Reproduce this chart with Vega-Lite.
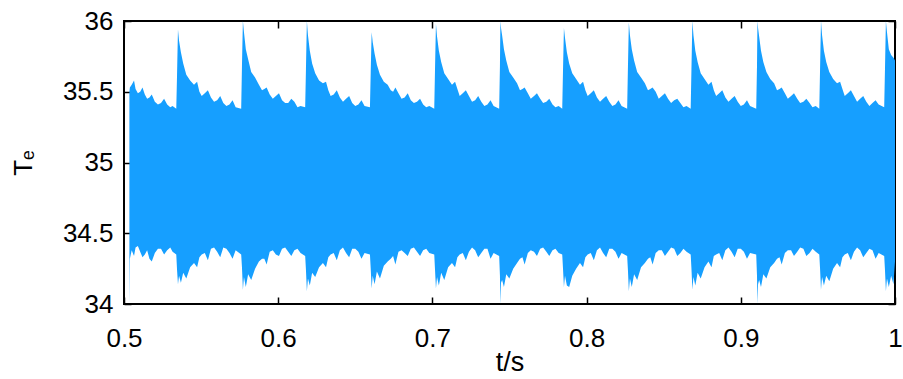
{
  "$schema": "https://vega.github.io/schema/vega-lite/v6.json",
  "width": 771,
  "height": 283,
  "autosize": {"type": "none"},
  "padding": {"left": 124, "top": 21, "right": 8, "bottom": 75},
  "background": "white",
  "config": {
    "view": {"stroke": "black", "strokeWidth": 2},
    "axis": {
      "grid": false,
      "domain": false,
      "tickColor": "black",
      "tickWidth": 1.5,
      "tickSize": -7,
      "labelFont": "Liberation Sans",
      "labelFontSize": 26,
      "labelColor": "black",
      "labelFlush": false,
      "titleFont": "Liberation Sans",
      "titleFontWeight": "normal",
      "titleColor": "black"
    }
  },
  "data": {
    "values": [
      {"t": 0.5035, "hi": 35.5, "lo": 34.0},
      {"t": 0.5038, "hi": 35.53, "lo": 34.32},
      {"t": 0.505, "hi": 35.55, "lo": 34.38},
      {"t": 0.5065, "hi": 35.58, "lo": 34.34},
      {"t": 0.5075, "hi": 35.52, "lo": 34.4},
      {"t": 0.509, "hi": 35.49, "lo": 34.41},
      {"t": 0.5105, "hi": 35.5, "lo": 34.37},
      {"t": 0.512, "hi": 35.53, "lo": 34.33},
      {"t": 0.5135, "hi": 35.48, "lo": 34.35},
      {"t": 0.515, "hi": 35.45, "lo": 34.38},
      {"t": 0.5165, "hi": 35.46, "lo": 34.32},
      {"t": 0.518, "hi": 35.48, "lo": 34.3},
      {"t": 0.52, "hi": 35.43, "lo": 34.36},
      {"t": 0.522, "hi": 35.41, "lo": 34.39},
      {"t": 0.524, "hi": 35.42, "lo": 34.39},
      {"t": 0.526, "hi": 35.45, "lo": 34.35},
      {"t": 0.528, "hi": 35.41, "lo": 34.38},
      {"t": 0.53, "hi": 35.39, "lo": 34.4},
      {"t": 0.5315, "hi": 35.4, "lo": 34.37},
      {"t": 0.5339, "hi": 35.38, "lo": 34.35},
      {"t": 0.5344, "hi": 35.62, "lo": 34.24},
      {"t": 0.535, "hi": 35.94, "lo": 34.14},
      {"t": 0.5357, "hi": 35.86, "lo": 34.2},
      {"t": 0.5369, "hi": 35.78, "lo": 34.15},
      {"t": 0.5384, "hi": 35.7, "lo": 34.22},
      {"t": 0.5404, "hi": 35.62, "lo": 34.18},
      {"t": 0.5429, "hi": 35.58, "lo": 34.26},
      {"t": 0.5454, "hi": 35.55, "lo": 34.29},
      {"t": 0.5474, "hi": 35.57, "lo": 34.26},
      {"t": 0.5489, "hi": 35.5, "lo": 34.33},
      {"t": 0.5504, "hi": 35.47, "lo": 34.35},
      {"t": 0.5524, "hi": 35.49, "lo": 34.36},
      {"t": 0.5544, "hi": 35.51, "lo": 34.31},
      {"t": 0.5564, "hi": 35.46, "lo": 34.39},
      {"t": 0.5584, "hi": 35.43, "lo": 34.4},
      {"t": 0.5604, "hi": 35.44, "lo": 34.37},
      {"t": 0.5624, "hi": 35.47, "lo": 34.33},
      {"t": 0.5644, "hi": 35.42, "lo": 34.4},
      {"t": 0.5664, "hi": 35.4, "lo": 34.39},
      {"t": 0.5684, "hi": 35.41, "lo": 34.36},
      {"t": 0.5704, "hi": 35.44, "lo": 34.32},
      {"t": 0.5724, "hi": 35.39, "lo": 34.38},
      {"t": 0.576, "hi": 35.38, "lo": 34.35},
      {"t": 0.5765, "hi": 35.68, "lo": 34.26},
      {"t": 0.5771, "hi": 36.0, "lo": 34.1},
      {"t": 0.5778, "hi": 35.92, "lo": 34.19},
      {"t": 0.579, "hi": 35.8, "lo": 34.12},
      {"t": 0.5805, "hi": 35.73, "lo": 34.21},
      {"t": 0.5825, "hi": 35.64, "lo": 34.17},
      {"t": 0.585, "hi": 35.6, "lo": 34.25},
      {"t": 0.5875, "hi": 35.55, "lo": 34.3},
      {"t": 0.5895, "hi": 35.51, "lo": 34.32},
      {"t": 0.591, "hi": 35.52, "lo": 34.32},
      {"t": 0.5925, "hi": 35.53, "lo": 34.28},
      {"t": 0.5945, "hi": 35.48, "lo": 34.37},
      {"t": 0.5965, "hi": 35.45, "lo": 34.38},
      {"t": 0.5985, "hi": 35.47, "lo": 34.35},
      {"t": 0.6005, "hi": 35.49, "lo": 34.34},
      {"t": 0.6025, "hi": 35.44, "lo": 34.39},
      {"t": 0.6045, "hi": 35.42, "lo": 34.4},
      {"t": 0.6065, "hi": 35.42, "lo": 34.37},
      {"t": 0.6085, "hi": 35.45, "lo": 34.34},
      {"t": 0.6105, "hi": 35.43, "lo": 34.38},
      {"t": 0.6125, "hi": 35.39, "lo": 34.39},
      {"t": 0.6145, "hi": 35.4, "lo": 34.36},
      {"t": 0.6175, "hi": 35.39, "lo": 34.34},
      {"t": 0.618, "hi": 35.66, "lo": 34.24},
      {"t": 0.6186, "hi": 36.0, "lo": 34.09},
      {"t": 0.6193, "hi": 35.9, "lo": 34.18},
      {"t": 0.6205, "hi": 35.79, "lo": 34.13},
      {"t": 0.622, "hi": 35.7, "lo": 34.22},
      {"t": 0.624, "hi": 35.63, "lo": 34.19},
      {"t": 0.6265, "hi": 35.58, "lo": 34.26},
      {"t": 0.629, "hi": 35.56, "lo": 34.29},
      {"t": 0.631, "hi": 35.57, "lo": 34.26},
      {"t": 0.6325, "hi": 35.51, "lo": 34.33},
      {"t": 0.634, "hi": 35.47, "lo": 34.35},
      {"t": 0.636, "hi": 35.48, "lo": 34.36},
      {"t": 0.638, "hi": 35.51, "lo": 34.31},
      {"t": 0.64, "hi": 35.46, "lo": 34.38},
      {"t": 0.642, "hi": 35.43, "lo": 34.4},
      {"t": 0.644, "hi": 35.45, "lo": 34.36},
      {"t": 0.646, "hi": 35.47, "lo": 34.33},
      {"t": 0.648, "hi": 35.42, "lo": 34.39},
      {"t": 0.65, "hi": 35.4, "lo": 34.39},
      {"t": 0.652, "hi": 35.41, "lo": 34.37},
      {"t": 0.654, "hi": 35.44, "lo": 34.32},
      {"t": 0.656, "hi": 35.4, "lo": 34.36},
      {"t": 0.6595, "hi": 35.39, "lo": 34.35},
      {"t": 0.66, "hi": 35.64, "lo": 34.25},
      {"t": 0.6606, "hi": 35.92, "lo": 34.11},
      {"t": 0.6613, "hi": 35.85, "lo": 34.2},
      {"t": 0.6625, "hi": 35.77, "lo": 34.14},
      {"t": 0.664, "hi": 35.69, "lo": 34.23},
      {"t": 0.666, "hi": 35.62, "lo": 34.18},
      {"t": 0.6685, "hi": 35.57, "lo": 34.27},
      {"t": 0.671, "hi": 35.55, "lo": 34.3},
      {"t": 0.673, "hi": 35.51, "lo": 34.32},
      {"t": 0.6745, "hi": 35.5, "lo": 34.34},
      {"t": 0.676, "hi": 35.53, "lo": 34.28},
      {"t": 0.678, "hi": 35.49, "lo": 34.37},
      {"t": 0.68, "hi": 35.45, "lo": 34.38},
      {"t": 0.682, "hi": 35.46, "lo": 34.36},
      {"t": 0.684, "hi": 35.49, "lo": 34.34},
      {"t": 0.686, "hi": 35.44, "lo": 34.39},
      {"t": 0.688, "hi": 35.42, "lo": 34.4},
      {"t": 0.69, "hi": 35.43, "lo": 34.37},
      {"t": 0.692, "hi": 35.45, "lo": 34.34},
      {"t": 0.694, "hi": 35.41, "lo": 34.38},
      {"t": 0.696, "hi": 35.39, "lo": 34.39},
      {"t": 0.698, "hi": 35.4, "lo": 34.36},
      {"t": 0.7012, "hi": 35.38, "lo": 34.35},
      {"t": 0.7017, "hi": 35.66, "lo": 34.24},
      {"t": 0.7023, "hi": 35.98, "lo": 34.11},
      {"t": 0.703, "hi": 35.89, "lo": 34.19},
      {"t": 0.7042, "hi": 35.79, "lo": 34.13},
      {"t": 0.7057, "hi": 35.71, "lo": 34.22},
      {"t": 0.7077, "hi": 35.63, "lo": 34.17},
      {"t": 0.7102, "hi": 35.59, "lo": 34.26},
      {"t": 0.7127, "hi": 35.55, "lo": 34.29},
      {"t": 0.7147, "hi": 35.57, "lo": 34.26},
      {"t": 0.7162, "hi": 35.52, "lo": 34.33},
      {"t": 0.7177, "hi": 35.47, "lo": 34.35},
      {"t": 0.7197, "hi": 35.49, "lo": 34.36},
      {"t": 0.7217, "hi": 35.51, "lo": 34.31},
      {"t": 0.7237, "hi": 35.47, "lo": 34.37},
      {"t": 0.7257, "hi": 35.43, "lo": 34.4},
      {"t": 0.7277, "hi": 35.44, "lo": 34.38},
      {"t": 0.7297, "hi": 35.47, "lo": 34.33},
      {"t": 0.7317, "hi": 35.43, "lo": 34.36},
      {"t": 0.7337, "hi": 35.4, "lo": 34.39},
      {"t": 0.7357, "hi": 35.41, "lo": 34.39},
      {"t": 0.7377, "hi": 35.44, "lo": 34.32},
      {"t": 0.7397, "hi": 35.4, "lo": 34.36},
      {"t": 0.7433, "hi": 35.38, "lo": 34.34},
      {"t": 0.7438, "hi": 35.68, "lo": 34.2},
      {"t": 0.7441, "hi": 36.0, "lo": 34.0},
      {"t": 0.7445, "hi": 35.95, "lo": 34.15},
      {"t": 0.7452, "hi": 35.9, "lo": 34.17},
      {"t": 0.7464, "hi": 35.8, "lo": 34.12},
      {"t": 0.7479, "hi": 35.72, "lo": 34.21},
      {"t": 0.7499, "hi": 35.64, "lo": 34.18},
      {"t": 0.7524, "hi": 35.6, "lo": 34.25},
      {"t": 0.7549, "hi": 35.56, "lo": 34.29},
      {"t": 0.7568, "hi": 35.51, "lo": 34.32},
      {"t": 0.7584, "hi": 35.52, "lo": 34.33},
      {"t": 0.7598, "hi": 35.53, "lo": 34.28},
      {"t": 0.7619, "hi": 35.49, "lo": 34.36},
      {"t": 0.7638, "hi": 35.45, "lo": 34.38},
      {"t": 0.7659, "hi": 35.47, "lo": 34.37},
      {"t": 0.7678, "hi": 35.49, "lo": 34.34},
      {"t": 0.7699, "hi": 35.45, "lo": 34.39},
      {"t": 0.7718, "hi": 35.42, "lo": 34.4},
      {"t": 0.7739, "hi": 35.43, "lo": 34.37},
      {"t": 0.7758, "hi": 35.45, "lo": 34.34},
      {"t": 0.7779, "hi": 35.41, "lo": 34.38},
      {"t": 0.7798, "hi": 35.39, "lo": 34.39},
      {"t": 0.7819, "hi": 35.4, "lo": 34.36},
      {"t": 0.7842, "hi": 35.38, "lo": 34.35},
      {"t": 0.7847, "hi": 35.65, "lo": 34.25},
      {"t": 0.7853, "hi": 35.95, "lo": 34.12},
      {"t": 0.786, "hi": 35.88, "lo": 34.2},
      {"t": 0.7872, "hi": 35.78, "lo": 34.13},
      {"t": 0.7887, "hi": 35.7, "lo": 34.12},
      {"t": 0.7907, "hi": 35.63, "lo": 34.2},
      {"t": 0.7932, "hi": 35.59, "lo": 34.25},
      {"t": 0.7957, "hi": 35.55, "lo": 34.29},
      {"t": 0.7977, "hi": 35.57, "lo": 34.26},
      {"t": 0.7992, "hi": 35.51, "lo": 34.33},
      {"t": 0.8007, "hi": 35.47, "lo": 34.35},
      {"t": 0.8027, "hi": 35.49, "lo": 34.36},
      {"t": 0.8047, "hi": 35.51, "lo": 34.31},
      {"t": 0.8067, "hi": 35.46, "lo": 34.38},
      {"t": 0.8087, "hi": 35.43, "lo": 34.4},
      {"t": 0.8107, "hi": 35.45, "lo": 34.36},
      {"t": 0.8127, "hi": 35.47, "lo": 34.33},
      {"t": 0.8147, "hi": 35.43, "lo": 34.39},
      {"t": 0.8167, "hi": 35.4, "lo": 34.39},
      {"t": 0.8187, "hi": 35.41, "lo": 34.37},
      {"t": 0.8207, "hi": 35.44, "lo": 34.32},
      {"t": 0.8227, "hi": 35.4, "lo": 34.36},
      {"t": 0.8263, "hi": 35.38, "lo": 34.34},
      {"t": 0.8268, "hi": 35.67, "lo": 34.24},
      {"t": 0.8274, "hi": 35.99, "lo": 34.09},
      {"t": 0.8281, "hi": 35.9, "lo": 34.18},
      {"t": 0.8293, "hi": 35.8, "lo": 34.12},
      {"t": 0.8308, "hi": 35.72, "lo": 34.21},
      {"t": 0.8328, "hi": 35.64, "lo": 34.17},
      {"t": 0.8353, "hi": 35.6, "lo": 34.26},
      {"t": 0.8378, "hi": 35.56, "lo": 34.29},
      {"t": 0.8398, "hi": 35.51, "lo": 34.32},
      {"t": 0.8413, "hi": 35.52, "lo": 34.33},
      {"t": 0.8428, "hi": 35.53, "lo": 34.28},
      {"t": 0.8448, "hi": 35.5, "lo": 34.36},
      {"t": 0.8468, "hi": 35.45, "lo": 34.38},
      {"t": 0.8488, "hi": 35.47, "lo": 34.38},
      {"t": 0.8508, "hi": 35.49, "lo": 34.34},
      {"t": 0.8528, "hi": 35.45, "lo": 34.37},
      {"t": 0.8548, "hi": 35.42, "lo": 34.4},
      {"t": 0.8568, "hi": 35.44, "lo": 34.39},
      {"t": 0.8588, "hi": 35.45, "lo": 34.34},
      {"t": 0.8608, "hi": 35.42, "lo": 34.36},
      {"t": 0.8628, "hi": 35.39, "lo": 34.39},
      {"t": 0.8648, "hi": 35.4, "lo": 34.37},
      {"t": 0.8675, "hi": 35.38, "lo": 34.35},
      {"t": 0.868, "hi": 35.66, "lo": 34.25},
      {"t": 0.8686, "hi": 36.0, "lo": 34.1},
      {"t": 0.8693, "hi": 35.9, "lo": 34.19},
      {"t": 0.8705, "hi": 35.79, "lo": 34.13},
      {"t": 0.872, "hi": 35.71, "lo": 34.22},
      {"t": 0.874, "hi": 35.63, "lo": 34.18},
      {"t": 0.8765, "hi": 35.59, "lo": 34.26},
      {"t": 0.879, "hi": 35.55, "lo": 34.3},
      {"t": 0.881, "hi": 35.57, "lo": 34.26},
      {"t": 0.8825, "hi": 35.51, "lo": 34.34},
      {"t": 0.884, "hi": 35.47, "lo": 34.35},
      {"t": 0.886, "hi": 35.49, "lo": 34.36},
      {"t": 0.888, "hi": 35.51, "lo": 34.31},
      {"t": 0.89, "hi": 35.46, "lo": 34.38},
      {"t": 0.892, "hi": 35.43, "lo": 34.4},
      {"t": 0.894, "hi": 35.45, "lo": 34.37},
      {"t": 0.896, "hi": 35.47, "lo": 34.33},
      {"t": 0.898, "hi": 35.43, "lo": 34.39},
      {"t": 0.9, "hi": 35.4, "lo": 34.39},
      {"t": 0.902, "hi": 35.41, "lo": 34.37},
      {"t": 0.904, "hi": 35.44, "lo": 34.32},
      {"t": 0.906, "hi": 35.4, "lo": 34.36},
      {"t": 0.91, "hi": 35.38, "lo": 34.35},
      {"t": 0.9105, "hi": 35.68, "lo": 34.2},
      {"t": 0.9108, "hi": 36.0, "lo": 34.0},
      {"t": 0.9112, "hi": 35.95, "lo": 34.14},
      {"t": 0.9119, "hi": 35.89, "lo": 34.17},
      {"t": 0.9131, "hi": 35.79, "lo": 34.12},
      {"t": 0.9146, "hi": 35.71, "lo": 34.21},
      {"t": 0.9166, "hi": 35.64, "lo": 34.18},
      {"t": 0.9191, "hi": 35.59, "lo": 34.26},
      {"t": 0.9216, "hi": 35.56, "lo": 34.29},
      {"t": 0.9235, "hi": 35.51, "lo": 34.32},
      {"t": 0.9251, "hi": 35.52, "lo": 34.33},
      {"t": 0.9265, "hi": 35.53, "lo": 34.28},
      {"t": 0.9286, "hi": 35.49, "lo": 34.36},
      {"t": 0.9305, "hi": 35.45, "lo": 34.38},
      {"t": 0.9326, "hi": 35.47, "lo": 34.38},
      {"t": 0.9345, "hi": 35.49, "lo": 34.34},
      {"t": 0.9366, "hi": 35.45, "lo": 34.37},
      {"t": 0.9385, "hi": 35.42, "lo": 34.4},
      {"t": 0.9406, "hi": 35.43, "lo": 34.39},
      {"t": 0.9425, "hi": 35.45, "lo": 34.34},
      {"t": 0.9446, "hi": 35.42, "lo": 34.36},
      {"t": 0.9465, "hi": 35.39, "lo": 34.39},
      {"t": 0.9486, "hi": 35.4, "lo": 34.37},
      {"t": 0.9509, "hi": 35.38, "lo": 34.35},
      {"t": 0.9514, "hi": 35.66, "lo": 34.25},
      {"t": 0.952, "hi": 36.0, "lo": 34.1},
      {"t": 0.9527, "hi": 35.9, "lo": 34.19},
      {"t": 0.9539, "hi": 35.79, "lo": 34.13},
      {"t": 0.9554, "hi": 35.71, "lo": 34.2},
      {"t": 0.9574, "hi": 35.64, "lo": 34.16},
      {"t": 0.9599, "hi": 35.59, "lo": 34.25},
      {"t": 0.9624, "hi": 35.56, "lo": 34.29},
      {"t": 0.9644, "hi": 35.57, "lo": 34.26},
      {"t": 0.9659, "hi": 35.52, "lo": 34.33},
      {"t": 0.9674, "hi": 35.47, "lo": 34.35},
      {"t": 0.9694, "hi": 35.49, "lo": 34.36},
      {"t": 0.9714, "hi": 35.51, "lo": 34.31},
      {"t": 0.9734, "hi": 35.47, "lo": 34.37},
      {"t": 0.9754, "hi": 35.43, "lo": 34.4},
      {"t": 0.9774, "hi": 35.45, "lo": 34.38},
      {"t": 0.9794, "hi": 35.47, "lo": 34.33},
      {"t": 0.9814, "hi": 35.43, "lo": 34.36},
      {"t": 0.9834, "hi": 35.4, "lo": 34.39},
      {"t": 0.9854, "hi": 35.42, "lo": 34.38},
      {"t": 0.9874, "hi": 35.44, "lo": 34.32},
      {"t": 0.9894, "hi": 35.41, "lo": 34.36},
      {"t": 0.993, "hi": 35.39, "lo": 34.34},
      {"t": 0.9935, "hi": 35.66, "lo": 34.24},
      {"t": 0.9941, "hi": 36.0, "lo": 34.09},
      {"t": 0.9948, "hi": 35.92, "lo": 34.18},
      {"t": 0.996, "hi": 35.8, "lo": 34.12},
      {"t": 0.9975, "hi": 35.76, "lo": 34.2},
      {"t": 0.999, "hi": 35.74, "lo": 34.14},
      {"t": 1.0, "hi": 35.72, "lo": 34.3}
    ]
  },
  "layer": [
    {
      "mark": {"type": "area", "color": "#169FFF", "clip": true, "interpolate": "linear", "opacity": 1},
      "encoding": {
        "x": {
          "field": "t",
          "type": "quantitative",
          "scale": {"domain": [0.5, 1], "nice": false, "zero": false},
          "axis": {
            "orient": "bottom",
            "values": [0.5, 0.6, 0.7, 0.8, 0.9, 1],
            "format": "~g",
            "labelPadding": 28,
            "title": "t/s",
            "titleFontSize": 27,
            "titlePadding": -2
          }
        },
        "y": {
          "field": "hi",
          "type": "quantitative",
          "scale": {"domain": [34, 36], "nice": false, "zero": false},
          "axis": {
            "orient": "left",
            "values": [34, 34.5, 35, 35.5, 36],
            "format": "~g",
            "labelPadding": 18,
            "title": "Tₑ",
            "titleFontSize": 26,
            "titlePadding": 26
          }
        },
        "y2": {"field": "lo"}
      }
    },
    {
      "mark": {"type": "point", "opacity": 0},
      "encoding": {
        "x": {
          "field": "t",
          "type": "quantitative",
          "axis": {"orient": "top", "values": [0.5, 0.6, 0.7, 0.8, 0.9, 1], "labels": false, "title": null}
        },
        "y": {
          "field": "hi",
          "type": "quantitative",
          "axis": {"orient": "right", "values": [34, 34.5, 35, 35.5, 36], "labels": false, "title": null}
        }
      }
    }
  ],
  "resolve": {"axis": {"x": "independent", "y": "independent"}}
}
